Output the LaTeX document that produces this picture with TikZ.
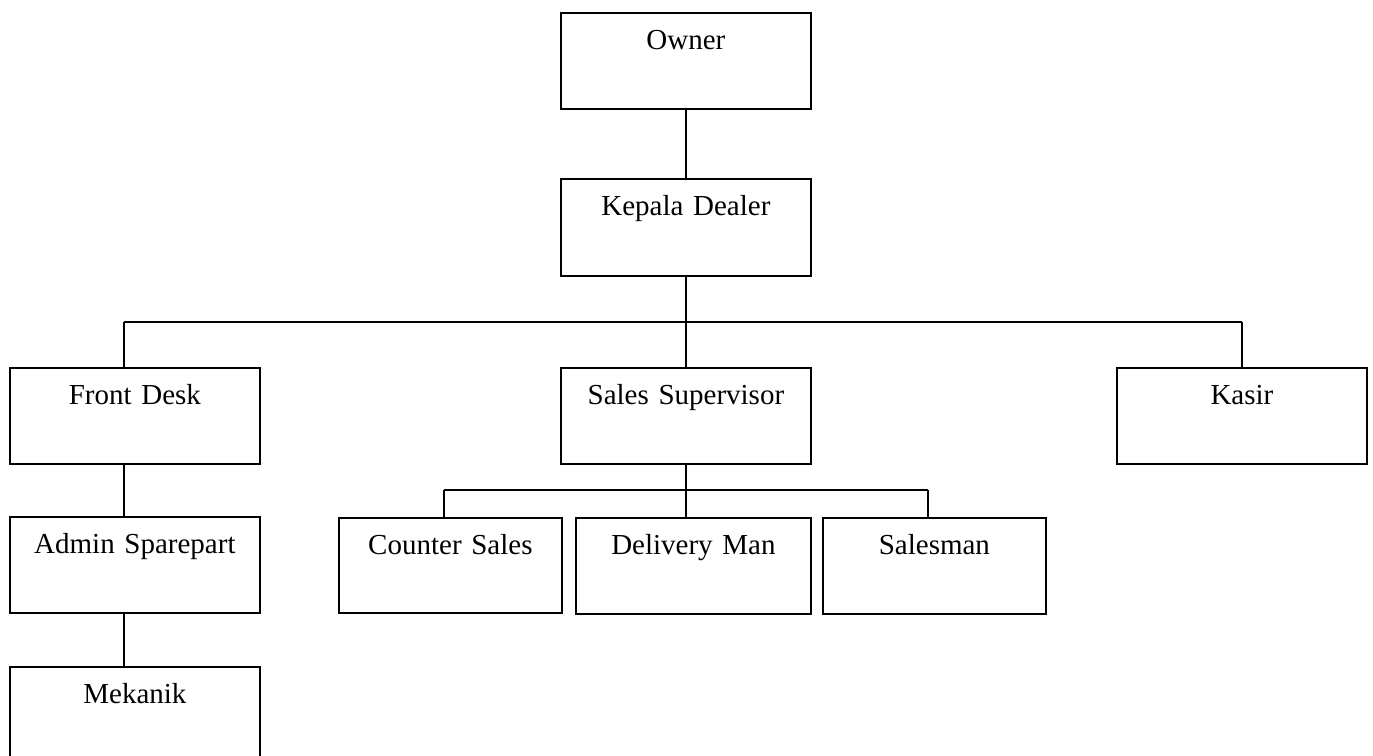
\documentclass[tikz,border=0pt]{standalone}
\usepackage{fontspec}
\setmainfont{Liberation Serif}
\begin{document}
\begin{tikzpicture}[x=1pt,y=-1pt,
  box/.style={draw, line width=1.8pt, rectangle, anchor=north west, inner sep=0pt,
    align=center, text height=37pt, text depth=59pt, font=\fontsize{29}{32}\selectfont},
  conn/.style={line width=1.8pt}]
\useasboundingbox (0,0) rectangle (1373,755);
\node[box, text width=250pt] (owner) at (560,12) {Owner};
\node[box, text width=250pt, text depth=60pt] (kep) at (560,178) {Kepala Dealer};
\node[box, text width=250pt] (front) at (9,367) {Front Desk};
\node[box, text width=250pt] (sup) at (560,367) {Sales Supervisor};
\node[box, text width=250pt] (kasir) at (1116,367) {Kasir};
\node[box, text width=250pt] (admin) at (9,516) {Admin Sparepart};
\node[box, text width=250pt] (mek) at (9,666) {Mekanik};
\node[box, text width=223pt, text depth=58pt] (counter) at (338,517) {Counter Sales};
\node[box, text width=235pt] (deliv) at (575,517) {Delivery Man};
\node[box, text width=223pt] (sman) at (822,517) {Salesman};
\coordinate (busL) at (124,322);
\coordinate (busM) at (686,322);
\coordinate (busR) at (1242,322);
\coordinate (subL) at (444,490);
\coordinate (subM) at (686,490);
\coordinate (subR) at (928,490);
\draw[conn] (owner.south -| busM) -- (kep.north -| busM);
\draw[conn] (kep.south -| busM) -- (busM);
\draw[conn] (busL) -- (busR);
\draw[conn] (busL) -- (busL |- front.north);
\draw[conn] (busM) -- (busM |- sup.north);
\draw[conn] (busR) -- (busR |- kasir.north);
\draw[conn] (sup.south -| subM) -- (subM |- deliv.north);
\draw[conn] (subL) -- (subR);
\draw[conn] (subL) -- (subL |- counter.north);
\draw[conn] (subR) -- (subR |- sman.north);
\draw[conn] (front.south -| busL) -- (admin.north -| busL);
\draw[conn] (admin.south -| busL) -- (mek.north -| busL);
\end{tikzpicture}
\end{document}
